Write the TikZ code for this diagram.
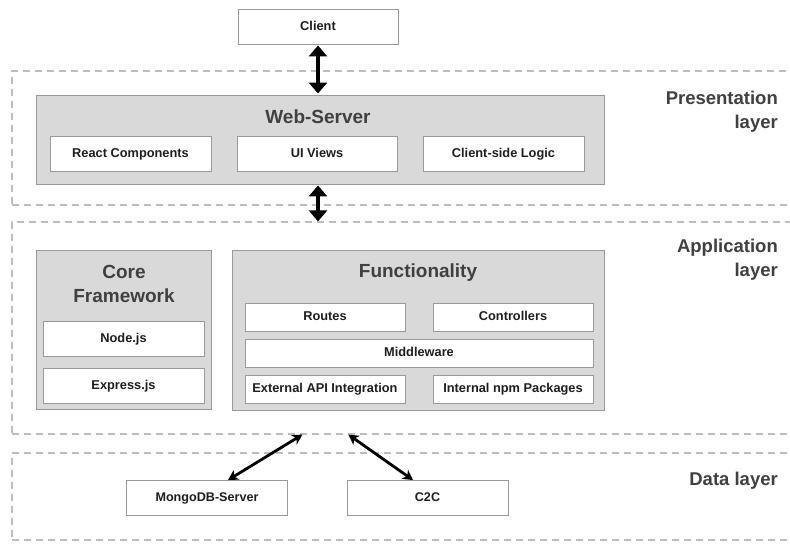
\documentclass[tikz,border=0pt]{standalone}
\usepackage{fontspec}
\setmainfont{Liberation Sans}
\usetikzlibrary{arrows.meta,calc}
\definecolor{boxgray}{HTML}{D9D9D9}
\definecolor{edgegray}{HTML}{9A9A9A}
\definecolor{dashgray}{HTML}{BDBDBD}
\definecolor{titlegray}{HTML}{404040}
\definecolor{subtext}{HTML}{1E1E1E}
\tikzset{
  x=1pt, y=-1pt,
  layerbox/.style={draw=dashgray, line width=1.2pt, dash pattern=on 7pt off 5pt, minimum width=788pt, inner sep=0pt},
  graybox/.style={draw=edgegray, fill=boxgray, line width=0.9pt, inner sep=0pt},
  whitebox/.style={draw=edgegray, fill=white, line width=0.9pt, inner sep=0pt, font=\bfseries\fontsize{12.8}{14}\selectfont, text=subtext, text height=0.72em, text depth=0pt},
  title/.style={font=\bfseries\fontsize{19}{24}\selectfont, text=titlegray, align=center, inner sep=0pt},
  layerlabel/.style={font=\bfseries\fontsize{18.5}{24}\selectfont, text=titlegray, align=right, inner sep=0pt, anchor=east},
  bigarrow/.style={line width=3.6pt, {Triangle[width=18pt,length=11pt]}-{Triangle[width=18pt,length=11pt]}},
  diagarrow/.style={line width=2.8pt, {Stealth[width=11pt,length=10pt,inset=3pt]}-{Stealth[width=11pt,length=10pt,inset=3pt]}}
}
\begin{document}
\begin{tikzpicture}
\clip (0,0) rectangle (790,544);
\fill[white] (0,0) rectangle (790,544);
% layer boxes
\node[layerbox, minimum height=134pt] (pres) at (406,138) {};
\node[layerbox, minimum height=212pt] (app) at (406,328) {};
\node[layerbox, minimum height=87pt] (data) at (406,496.5) {};
% layer labels
\node[layerlabel] (presl) at (778,112) {Presentation\\layer};
\node[layerlabel] (appl) at (778,260) {Application\\layer};
\node[layerlabel] (datal) at (778,481) {Data layer};
% client
\node[whitebox, minimum width=160pt, minimum height=35pt] (client) at (318,26.5) {Client};
% web server
\node[graybox, minimum width=568pt, minimum height=89pt] (web) at (320,139.5) {};
\node[title] (webt) at (318,117) {Web-Server};
\node[whitebox, minimum width=161pt, minimum height=35pt] (react) at (130.5,153.5) {React Components};
\node[whitebox, minimum width=160pt, minimum height=35pt] (ui) at (317,153.5) {UI Views};
\node[whitebox, minimum width=161pt, minimum height=35pt] (csl) at (503.5,153.5) {Client-side Logic};
% core framework
\node[graybox, minimum width=175pt, minimum height=159pt] (core) at (123.5,329.5) {};
\node[title] (coret) at (124,284) {Core\\Framework};
\node[whitebox, minimum width=161pt, minimum height=35pt] (nodejs) at (123.5,338.5) {Node.js};
\node[whitebox, minimum width=161pt, minimum height=35pt] (express) at (123.5,385.5) {Express.js};
% functionality
\node[graybox, minimum width=372pt, minimum height=160pt] (func) at (418,330) {};
\node[title] (funct) at (418,273) {Functionality};
\node[whitebox, minimum width=160pt, minimum height=28pt] (routes) at (325,317) {Routes};
\node[whitebox, minimum width=160pt, minimum height=28pt] (ctrl) at (513,317) {Controllers};
\node[whitebox, minimum width=348pt, minimum height=28pt] (mid) at (419,353) {Middleware};
\node[whitebox, minimum width=160pt, minimum height=28pt] (ext) at (325,389) {External API Integration};
\node[whitebox, minimum width=160pt, minimum height=28pt] (npm) at (513,389) {Internal npm Packages};
% data
\node[whitebox, minimum width=161pt, minimum height=35pt, font=\bfseries\fontsize{12.6}{14}\selectfont] (mongo) at (207,498) {MongoDB-Server};
\node[whitebox, minimum width=161pt, minimum height=35pt, font=\bfseries\fontsize{12.6}{14}\selectfont] (c2c) at (427.5,498) {C2C};
% arrows
\draw[bigarrow, shorten <=1pt, shorten >=1pt] (client.south) -- (client.south |- web.north);
\draw[bigarrow, shorten <=1pt, shorten >=0pt] (client.south |- web.south) -- (client.south |- app.north);
\coordinate (a1) at ($(app.south west)+(291,0)$);
\coordinate (a2) at ($(app.south west)+(337,0)$);
\draw[diagarrow] (a1) -- ($(mongo.north)+(21,0)$);
\draw[diagarrow] (a2) -- ($(c2c.north)+(-14.5,0)$);
\end{tikzpicture}
\end{document}
